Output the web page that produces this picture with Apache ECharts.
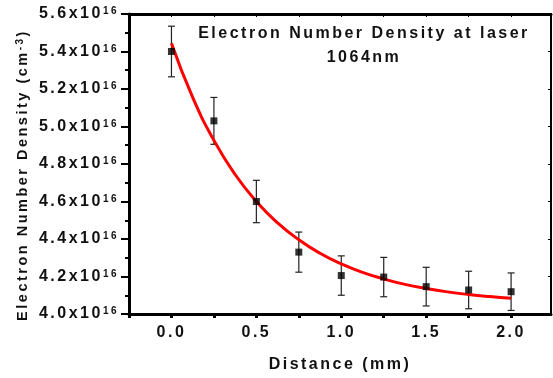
<!DOCTYPE html>
<html>
<head>
<meta charset="utf-8">
<script src="https://cdn.jsdelivr.net/npm/echarts@6/dist/echarts.min.js"></script>
<style>html,body{margin:0;padding:0;background:#fff}#c{width:553px;height:378px}</style>
</head>
<body>
<div id="c"></div>
<script>
// ---- data (values in units of 10^16 cm^-3) ----
const distance = [0, 0.25, 0.5, 0.75, 1.0, 1.25, 1.5, 1.75, 2.0];
const density = [5.40, 5.03, 4.60, 4.33, 4.205, 4.197, 4.146, 4.128, 4.119];
const densityError = [0.135, 0.125, 0.113, 0.107, 0.105, 0.105, 0.103, 0.100, 0.100];
const fitDistance = [0, 0.125, 0.25, 0.375, 0.5, 0.625, 0.75, 0.875, 1.0, 1.125, 1.25, 1.375, 1.5, 1.625, 1.75, 1.875, 2.0];
const fitDensity = [5.444, 5.155, 4.926, 4.744, 4.600, 4.486, 4.396, 4.324, 4.267, 4.222, 4.187, 4.158, 4.136, 4.118, 4.104, 4.093, 4.084];
const xTickLabels = ['0.0', '0.5', '1.0', '1.5', '2.0'];
const yTickLabels = ['4.0', '4.2', '4.4', '4.6', '4.8', '5.0', '5.2', '5.4', '5.6'];
const titleLines = ['Electron Number Density at laser', '1064nm'];
const yAxisTitle = 'Electron Number Density (cm{s|-3})';
const xAxisTitle = 'Distance (mm)';

// wide letter spacing as in the original figure
(function () {
  const LS = '2.5px';
  const P = CanvasRenderingContext2D.prototype;
  const f = P.fillText, m = P.measureText, s = P.strokeText;
  P.fillText = function () { this.letterSpacing = LS; return f.apply(this, arguments); };
  P.strokeText = function () { this.letterSpacing = LS; return s.apply(this, arguments); };
  P.measureText = function () { this.letterSpacing = LS; return m.apply(this, arguments); };
})();

const FONT = "'Liberation Sans', Arial, sans-serif";
const chart = echarts.init(document.getElementById('c'), null, { renderer: 'canvas' });

const xMin = -0.25, xMax = 2.235;
const option = {
  backgroundColor: '#fff',
  animation: false,
  textStyle: { fontFamily: FONT },
  grid: { left: 129, right: 2, top: 14, bottom: 64, outerBoundsMode: 'none', containLabel: false },
  graphic: [{
    type: 'text', x: 364, y: 22,
    style: {
      text: titleLines.join('\n'), textAlign: 'center', textVerticalAlign: 'top',
      font: 'bold 16px ' + FONT, lineHeight: 24, fill: '#111'
    }
  }, {
    type: 'text', x: 23, y: 175, rotation: Math.PI / 2,
    style: {
      text: yAxisTitle, align: 'center', verticalAlign: 'middle',
      fontSize: 14.5, fontWeight: 'bold', fontFamily: FONT, fill: '#111',
      rich: { s: { fontSize: 10, fontWeight: 'bold', fontFamily: FONT, fill: '#111', verticalAlign: 'top' } }
    }
  }],
  xAxis: [{
    type: 'value', min: xMin, max: xMax, interval: 0.25,
    name: xAxisTitle, nameLocation: 'middle', nameGap: 41, nameMoveOverlap: false,
    nameTextStyle: { fontSize: 16, fontWeight: 'bold', color: '#111', fontFamily: FONT },
    axisLine: { onZero: false, lineStyle: { color: '#000', width: 3 } },
    axisTick: { inside: false, length: 4, lineStyle: { color: '#000', width: 3 } },
    splitLine: { show: false },
    axisLabel: {
      margin: 9, fontSize: 16, fontWeight: 'bold', color: '#111', fontFamily: FONT,
      showMinLabel: true, showMaxLabel: false, hideOverlap: false,
      formatter: function (v) {
        const s = v.toFixed(1);
        return xTickLabels.indexOf(s) >= 0 && Math.abs(v * 2 - Math.round(v * 2)) < 1e-6 ? s : '';
      }
    }
  }, {
    type: 'value', position: 'top', min: xMin, max: xMax, interval: 0.25,
    axisLine: { onZero: false, lineStyle: { color: '#000', width: 3 } },
    axisTick: { inside: true, length: 3, lineStyle: { color: '#000', width: 1 } },
    axisLabel: { show: false }, splitLine: { show: false }
  }],
  yAxis: [{
    type: 'value', min: 4.0, max: 5.6, interval: 0.2,
    axisLine: { onZero: false, lineStyle: { color: '#000', width: 3 } },
    axisTick: { inside: false, length: 8, lineStyle: { color: '#000', width: 2 } },
    minorTick: { show: true, splitNumber: 2, length: 4, lineStyle: { color: '#000', width: 2 } },
    splitLine: { show: false },
    axisLabel: {
      margin: 10, color: '#111', hideOverlap: false,
      formatter: function (v) {
        const s = v.toFixed(1);
        return yTickLabels.indexOf(s) >= 0 ? '{m|' + s + 'x10}{s|16}' : '';
      },
      rich: {
        m: { fontSize: 16, fontWeight: 'bold', color: '#111', fontFamily: FONT, lineHeight: 18 },
        s: { fontSize: 10, fontWeight: 'bold', color: '#111', fontFamily: FONT, verticalAlign: 'top', lineHeight: 12 }
      }
    }
  }, {
    type: 'value', position: 'right', min: 4.0, max: 5.6, interval: 0.2,
    axisLine: { onZero: false, lineStyle: { color: '#000', width: 2 } },
    axisTick: { inside: true, length: 3, lineStyle: { color: '#000', width: 1 } },
    axisLabel: { show: false }, splitLine: { show: false }
  }],
  series: [{
    type: 'line', name: 'fit', smooth: true, showSymbol: false,
    data: fitDistance.map((x, i) => [x, fitDensity[i]]),
    lineStyle: { color: '#ff0000', width: 3 }, z: 3
  }, {
    type: 'custom', name: 'error',
    data: distance.map((x, i) => [x, density[i], densityError[i]]),
    renderItem: function (params, api) {
      const x = api.value(0), y = api.value(1), e = api.value(2);
      const t = api.coord([x, y + e]), b = api.coord([x, y - e]);
      const w = 3.5;
      const st = { stroke: '#222', lineWidth: 1.2 };
      return {
        type: 'group', children: [
          { type: 'line', shape: { x1: t[0], y1: t[1], x2: b[0], y2: b[1] }, style: st },
          { type: 'line', shape: { x1: t[0] - w, y1: t[1], x2: t[0] + w, y2: t[1] }, style: st },
          { type: 'line', shape: { x1: b[0] - w, y1: b[1], x2: b[0] + w, y2: b[1] }, style: st }
        ]
      };
    }, z: 2
  }, {
    type: 'scatter', name: 'data', symbol: 'rect', symbolSize: 7,
    data: distance.map((x, i) => [x, density[i]]),
    itemStyle: { color: '#000' }, z: 4
  }]
};
chart.setOption(option);
</script>
</body>
</html>
